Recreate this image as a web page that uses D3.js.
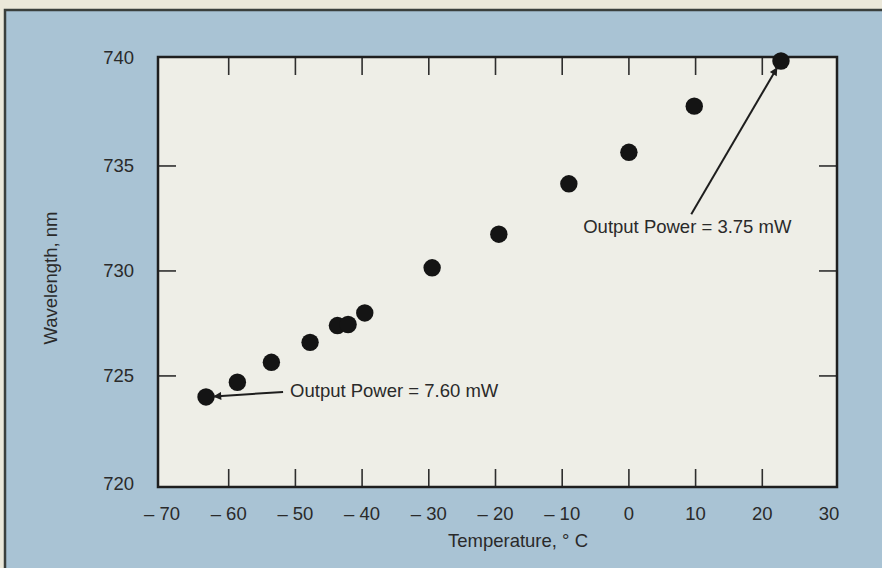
<!DOCTYPE html>
<html>
<head>
<meta charset="utf-8">
<script src="https://cdn.jsdelivr.net/npm/d3@7"></script>
<style>
  body { margin: 0; background: #ebe8da; }
  svg text { font-family: "Liberation Sans", Arial, sans-serif; fill: #2a2a2a; }
</style>
</head>
<body>
<svg id="chart" width="882" height="568"></svg>
<script>
// temperature in deg C, wavelength in nm
const temperature = [-63.4, -58.7, -53.6, -47.8, -43.7, -42.1, -39.6, -29.5, -19.5, -9.0, 0.0, 9.8, 22.8];
const wavelength = [724.0, 724.7, 725.65, 726.6, 727.4, 727.45, 728.0, 730.15, 731.75, 734.15, 735.65, 737.85, 740.0];
const xTicks = [-70, -60, -50, -40, -30, -20, -10, 0, 10, 20, 30];
const yTicks = [720, 725, 730, 735, 740];
// annotations: which point, text start and arrow start (data units)
const notes = [
  { idx: 0, text: "Output Power = 7.60 mW", tx: -50.8, ty: 724.0, ax: -51.85, ay: 724.24 },
  { idx: 12, text: "Output Power = 3.75 mW", tx: -6.85, ty: 731.8, ax: 9.35, ay: 732.7 }
];

const svg = d3.select("#chart");
const fontSize = 18.5;

// blue panel
svg.append("rect")
  .attr("x", 5).attr("y", 10).attr("width", 882).attr("height", 568)
  .attr("fill", "#a9c3d4").attr("stroke", "#3a3f3c").attr("stroke-width", 2.5);

const plotLeft = 158, plotRight = 837, plotTop = 57, plotBottom = 487;

// domain slightly padded so ticks sit where the original has them
const x = d3.scaleLinear().domain([-70.6, 31.2]).range([plotLeft, plotRight]);
const y = d3.scaleLinear().domain([719.71, 740.19]).range([plotBottom, plotTop]);

svg.append("rect")
  .attr("x", plotLeft).attr("y", plotTop)
  .attr("width", plotRight - plotLeft).attr("height", plotBottom - plotTop)
  .attr("fill", "#eeeee7");

const tickLen = 18;
const tickColor = "#2e2e2e";

// x ticks top and bottom (inward)
const innerX = xTicks.slice(1, -1);
svg.append("g").selectAll("line").data(innerX).enter().append("line")
  .attr("x1", d => x(d)).attr("x2", d => x(d))
  .attr("y1", plotBottom).attr("y2", plotBottom - tickLen)
  .attr("stroke", tickColor).attr("stroke-width", 1.6);
svg.append("g").selectAll("line").data(innerX).enter().append("line")
  .attr("x1", d => x(d)).attr("x2", d => x(d))
  .attr("y1", plotTop).attr("y2", plotTop + tickLen)
  .attr("stroke", tickColor).attr("stroke-width", 1.6);

// y ticks left and right
const innerY = yTicks.slice(1, -1);
svg.append("g").selectAll("line").data(innerY).enter().append("line")
  .attr("x1", plotLeft).attr("x2", plotLeft + tickLen)
  .attr("y1", d => y(d)).attr("y2", d => y(d))
  .attr("stroke", tickColor).attr("stroke-width", 1.6);
svg.append("g").selectAll("line").data(innerY).enter().append("line")
  .attr("x1", plotRight).attr("x2", plotRight - tickLen)
  .attr("y1", d => y(d)).attr("y2", d => y(d))
  .attr("stroke", tickColor).attr("stroke-width", 1.6);

// frame
svg.append("rect")
  .attr("x", plotLeft).attr("y", plotTop)
  .attr("width", plotRight - plotLeft).attr("height", plotBottom - plotTop)
  .attr("fill", "none").attr("stroke", "#1e1e1e").attr("stroke-width", 2.5);

// tick labels
svg.append("g").selectAll("text").data(xTicks).enter().append("text")
  .attr("x", d => x(d)).attr("y", 520)
  .attr("text-anchor", "middle").attr("font-size", fontSize)
  .text(d => d < 0 ? "\u2013 " + Math.abs(d) : d);

svg.append("g").selectAll("text").data(yTicks).enter().append("text")
  .attr("x", 134)
  .attr("y", d => d === 740 ? plotTop + 1 : d === 720 ? plotBottom - 3 : y(d))
  .attr("dy", "0.35em")
  .attr("text-anchor", "end").attr("font-size", fontSize)
  .text(d => d);

// axis titles
svg.append("text")
  .attr("x", 518).attr("y", 547)
  .attr("text-anchor", "middle").attr("font-size", fontSize)
  .text("Temperature, \u00b0 C");

svg.append("text")
  .attr("transform", "translate(57,278) rotate(-90)")
  .attr("text-anchor", "middle").attr("font-size", fontSize)
  .text("Wavelength, nm");

// arrow marker
svg.append("defs").append("marker")
  .attr("id", "head")
  .attr("viewBox", "0 0 10 10").attr("refX", 9).attr("refY", 5)
  .attr("markerWidth", 12).attr("markerHeight", 8)
  .attr("markerUnits", "userSpaceOnUse")
  .attr("orient", "auto")
  .append("path").attr("d", "M0,0 L10,5 L0,10 Z").attr("fill", "#1e1e1e");

// points
svg.append("g").selectAll("circle").data(temperature).enter().append("circle")
  .attr("cx", d => x(d))
  .attr("cy", (d, i) => y(wavelength[i]))
  .attr("r", 8.7)
  .attr("fill", "#141414");

// annotations
notes.forEach(n => {
  const px = x(temperature[n.idx]), py = y(wavelength[n.idx]);
  const sx = x(n.ax), sy = y(n.ay);
  const dx = px - sx, dy = py - sy, len = Math.hypot(dx, dy);
  svg.append("line")
    .attr("x1", sx).attr("y1", sy)
    .attr("x2", px - dx / len * 8).attr("y2", py - dy / len * 8)
    .attr("stroke", "#1e1e1e").attr("stroke-width", 2)
    .attr("marker-end", "url(#head)");
  svg.append("text")
    .attr("x", x(n.tx)).attr("y", y(n.ty))
    .attr("font-size", fontSize)
    .text(n.text);
});
</script>
</body>
</html>
